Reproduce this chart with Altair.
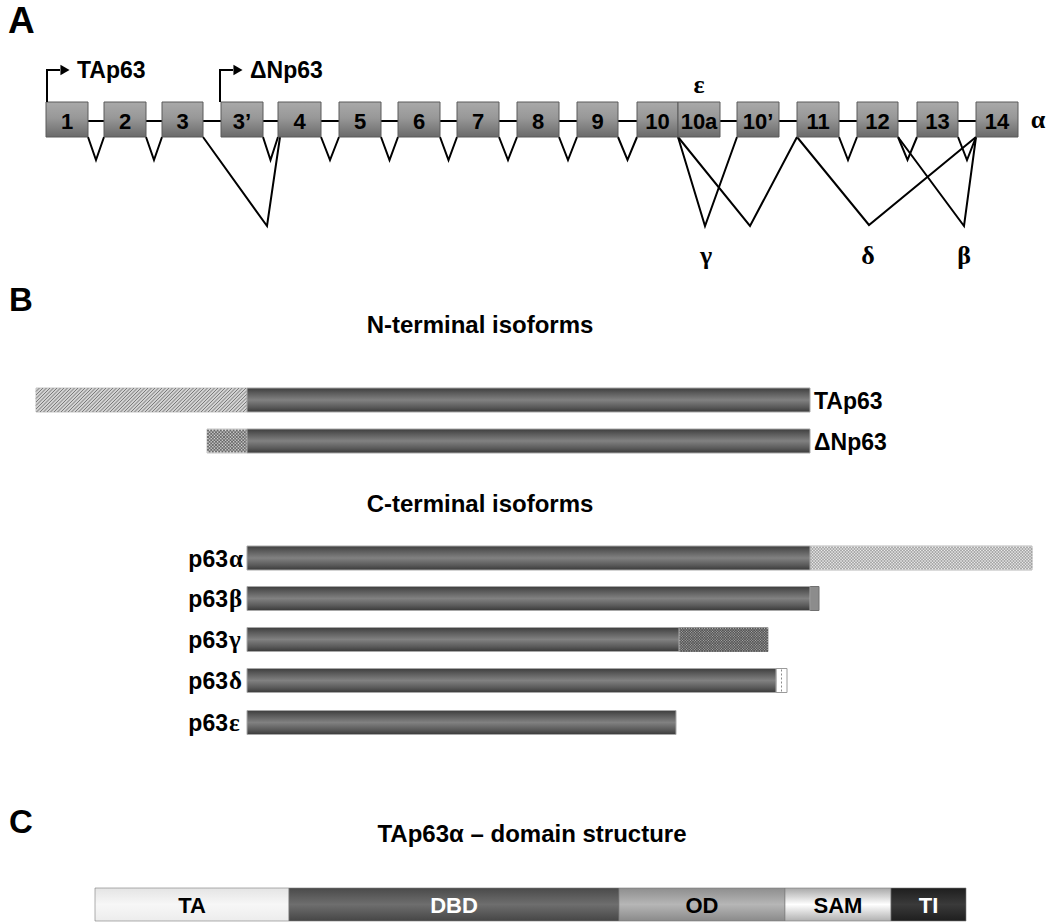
import altair as alt
import pandas as pd

W, H = 1051, 924
SANS = "Liberation Sans"
SERIF = "Liberation Serif"

# ---------------- Panel A: exon map of the p63 gene ----------------
exon_names = ["1", "2", "3", "3’", "4", "5", "6", "7", "8", "9",
              "10", "10a", "10’", "11", "12", "13", "14"]
exon_start = [46, 104, 162, 221, 278, 339, 398, 457, 517, 577,
              637, 678, 737, 797, 857, 917, 976]
exon_end = [88, 146, 203, 263, 321, 381, 440, 499, 559, 618,
            678, 720, 779, 839, 898, 958, 1018]
EXON_TOP, EXON_BOTTOM, INTRON_Y = 102, 137, 121

# splicing between neighbouring exons (donor exon index, acceptor exon index)
short_splices = [(0, 1), (1, 2), (3, 4), (4, 5), (5, 6), (6, 7), (7, 8),
                 (8, 9), (9, 10), (13, 14), (14, 15), (15, 16)]
SHORT_DEPTH = 160

# alternative splice events: donor, apex and acceptor positions, apex depth
alt_donor = [203, 678, 678, 797, 898]
alt_apex = [267, 705, 750, 869, 964]
alt_acceptor = [280, 737, 797, 976, 976]
alt_depth = [226, 226, 226, 225, 226]

# promoters
promoter_names = ["TAp63", "ΔNp63"]
promoter_x = [47, 220]
PROMOTER_Y = 70

# splice-variant symbols
variant_greek = ["γ", "δ", "β", "ε", "α"]
variant_x = [706, 868, 964, 699, 1038]
variant_y = [264, 264, 264, 93, 128]

# ---------------- Panel B: isoforms ----------------
CORE_START, CORE_END, BAR_H = 247, 810, 24
nterm_names = ["TAp63", "ΔNp63"]
nterm_row = [400, 441]
nterm_start = [36, 207]

cterm_greek = ["α", "β", "γ", "δ", "ε"]
cterm_row = [558, 598.5, 639.5, 680.5, 722.5]
cterm_core_end = [810, 810, 679, 776, 676]
cterm_tail_end = [1032, 819, 768, 787, 676]

# ---------------- Panel C: TAp63α domains ----------------
domain_names = ["TA", "DBD", "OD", "SAM", "TI"]
domain_start = [95, 289, 619, 785, 891]
domain_end = [289, 619, 785, 891, 966]
domain_text = ["black", "white", "black", "black", "white"]
DOM_TOP, DOM_BOTTOM = 888, 921

xs = alt.Scale(domain=[0, W], nice=False, zero=False)
ys = alt.Scale(domain=[0, H], nice=False, zero=False, reverse=True)


def X(f):
    return alt.X(f, type="quantitative", scale=xs, axis=None)


def Y(f):
    return alt.Y(f, type="quantitative", scale=ys, axis=None)


def grad(stops):
    return alt.Gradient(
        gradient="linear", x1=0, x2=0, y1=0, y2=1,
        stops=[alt.GradientStop(color=c, offset=o) for o, c in stops])


def rects(rows, fill, stroke=None, sw=1.0):
    df = pd.DataFrame(rows, columns=["x0", "x1", "y0", "y1"])
    kw = dict(fill=fill, strokeWidth=sw)
    if stroke is not None:
        kw["stroke"] = stroke
    return alt.Chart(df).mark_rect(**kw).encode(
        x=X("x0"), x2=alt.X2("x1"), y=Y("y0"), y2=alt.Y2("y1"))


def texts(rows, size, align="center", font=SANS, weight="bold", color="black"):
    df = pd.DataFrame(rows, columns=["x", "y", "t"])
    return alt.Chart(df).mark_text(
        font=font, fontSize=size, fontWeight=weight, align=align,
        baseline="alphabetic", color=color).encode(
        x=X("x"), y=Y("y"), text="t:N")


def polylines(paths, width=2.0, color="black"):
    rows = []
    for i, p in enumerate(paths):
        for k, (px, py) in enumerate(p):
            rows.append({"id": i, "k": k, "x": px, "y": py})
    return alt.Chart(pd.DataFrame(rows)).mark_line(
        color=color, strokeWidth=width, strokeJoin="miter").encode(
        x=X("x"), y=Y("y"), detail="id:N", order="k:Q")


def stipple(x0, x1, y0, y1, step, color, size):
    pts = []
    j = 0
    yy = y0 + step / 2
    while yy < y1:
        xx = x0 + (step / 2 if j % 2 else 0) + 1
        while xx < x1:
            pts.append({"x": xx, "y": yy})
            xx += step
        yy += step / 2
        j += 1
    return alt.Chart(pd.DataFrame(pts)).mark_square(
        size=size, color=color, opacity=1, strokeWidth=0).encode(x=X("x"), y=Y("y"))


def hatch(x0, x1, y0, y1, step, color):
    h = y1 - y0
    rows = []
    s = x0 - h
    while s < x1:
        ax, ay = s, y1
        bx, by = s + h, y0
        if ax < x0:
            ay = y1 - (x0 - ax)
            ax = x0
        if bx > x1:
            by = y0 + (bx - x1)
            bx = x1
        if bx > ax:
            rows.append({"a": ax, "b": bx, "c": ay, "d": by})
        s += step
    return alt.Chart(pd.DataFrame(rows)).mark_rule(color=color, strokeWidth=1).encode(
        x=X("a"), x2=alt.X2("b"), y=Y("c"), y2=alt.Y2("d"))


layers = []

# ---- Panel A ----
layers.append(polylines([[(exon_start[0], INTRON_Y), (exon_end[-1], INTRON_Y)]]))
short_paths = []
for a, b in short_splices:
    l, r = exon_end[a], exon_start[b]
    short_paths.append([(l, EXON_BOTTOM), ((l + r) / 2, SHORT_DEPTH), (r, EXON_BOTTOM)])
alt_paths = [[(d, EXON_BOTTOM), (ap, dep), (ac, EXON_BOTTOM)]
             for d, ap, ac, dep in zip(alt_donor, alt_apex, alt_acceptor, alt_depth)]
layers.append(polylines(short_paths + alt_paths))

exon_fill = grad([(0, "#a9a9a9"), (0.45, "#989898"), (1, "#6a6a6a")])
layers.append(rects([(s, e, EXON_TOP, EXON_BOTTOM) for s, e in zip(exon_start, exon_end)],
                    exon_fill, stroke="#5a5a5a", sw=1))
layers.append(texts([((s + e) / 2, 128.5, n) for s, e, n in zip(exon_start, exon_end, exon_names)], 22))

# promoter arrows
layers.append(polylines([[(px, EXON_TOP), (px, PROMOTER_Y), (px + 13, PROMOTER_Y)]
                         for px in promoter_x]))
arrow_df = pd.DataFrame({"x": [px + 18 for px in promoter_x], "y": [PROMOTER_Y] * 2})
layers.append(alt.Chart(arrow_df).mark_point(
    shape="triangle-right", filled=True, size=110, color="black", opacity=1).encode(
    x=X("x"), y=Y("y")))
layers.append(texts([(px + 30, 78, n) for px, n in zip(promoter_x, promoter_names)], 23, align="left"))
layers.append(texts(list(zip(variant_x, variant_y, variant_greek)), 26, font=SERIF))

# panel letters
layers.append(texts([(8, 33, "A")], 37, align="left"))
layers.append(texts([(9, 311, "B"), (9, 833, "C")], 33, align="left"))

# ---- Panel B ----
core_fill = grad([(0, "#3e3e3e"), (0.2, "#5a5a5a"), (0.5, "#818181"),
                  (0.8, "#5a5a5a"), (1, "#3a3a3a")])
layers.append(texts([(480, 333, "N-terminal isoforms"), (480, 512, "C-terminal isoforms")], 24))

# TAp63: hatched transactivation extension
tx0, ty0, ty1 = nterm_start[0], nterm_row[0] - BAR_H / 2, nterm_row[0] + BAR_H / 2
layers.append(rects([(tx0, CORE_START, ty0, ty1)], "#d2d2d2", stroke="#c4c4c4"))
layers.append(hatch(tx0, CORE_START, ty0, ty1, 3.5, "#7a7a7a"))
# ΔNp63: stippled extension
dx0, dy0, dy1 = nterm_start[1], nterm_row[1] - BAR_H / 2, nterm_row[1] + BAR_H / 2
layers.append(rects([(dx0, CORE_START, dy0, dy1)], "#d6d6d6", stroke="#c4c4c4"))
layers.append(stipple(dx0, CORE_START, dy0, dy1, 3.2, "#6a6a6a", 3.5))
layers.append(rects([(CORE_START, CORE_END, r - BAR_H / 2, r + BAR_H / 2) for r in nterm_row],
                    core_fill, stroke="#a8a8a8"))
layers.append(texts([(CORE_END + 4, r + 9, n) for r, n in zip(nterm_row, nterm_names)], 23, align="left"))

# C-terminal tails
ra, rb, rg, rd = cterm_row[0], cterm_row[1], cterm_row[2], cterm_row[3]
layers.append(rects([(cterm_core_end[0], cterm_tail_end[0], ra - BAR_H / 2, ra + BAR_H / 2)],
                    "#ececec", stroke="#b8b8b8"))
layers.append(stipple(cterm_core_end[0], cterm_tail_end[0], ra - BAR_H / 2, ra + BAR_H / 2,
                      3.0, "#9a9a9a", 2.5))
layers.append(rects([(cterm_core_end[1], cterm_tail_end[1], rb - BAR_H / 2, rb + BAR_H / 2)],
                    "#8c8c8c", stroke="#707070"))
layers.append(rects([(cterm_core_end[2], cterm_tail_end[2], rg - BAR_H / 2, rg + BAR_H / 2)],
                    "#c4c4c4", stroke="#9a9a9a"))
layers.append(stipple(cterm_core_end[2], cterm_tail_end[2], rg - BAR_H / 2, rg + BAR_H / 2,
                      2.6, "#555555", 3.0))
layers.append(rects([(cterm_core_end[3], cterm_tail_end[3], rd - BAR_H / 2, rd + BAR_H / 2)],
                    "white", stroke="#9a9a9a"))
dash_df = pd.DataFrame({"x": [(cterm_core_end[3] + cterm_tail_end[3]) / 2],
                        "y0": [rd - BAR_H / 2 + 1], "y1": [rd + BAR_H / 2 - 1]})
layers.append(alt.Chart(dash_df).mark_rule(color="#8a8a8a", strokeDash=[2, 2], strokeWidth=1).encode(
    x=X("x"), y=Y("y0"), y2=alt.Y2("y1")))
layers.append(rects([(CORE_START, e, r - BAR_H / 2, r + BAR_H / 2)
                     for r, e in zip(cterm_row, cterm_core_end)], core_fill, stroke="#a8a8a8"))
layers.append(texts([(228, r + 8.5, "p63") for r in cterm_row], 23, align="right"))
layers.append(texts([(229, r + 8.5, g) for r, g in zip(cterm_row, cterm_greek)], 25,
                    align="left", font=SERIF))

# ---- Panel C ----
layers.append(texts([(532, 842, "TAp63α – domain structure")], 24))
domain_fills = [
    grad([(0, "#e4e4e4"), (0.5, "#f7f7f7"), (1, "#ececec")]),
    grad([(0, "#4a4a4a"), (0.5, "#6e6e6e"), (1, "#464646")]),
    grad([(0, "#8e8e8e"), (0.5, "#b6b6b6"), (1, "#8a8a8a")]),
    grad([(0, "#a8a8a8"), (0.5, "#ffffff"), (1, "#b0b0b0")]),
    grad([(0, "#1e1e1e"), (0.5, "#3a3a3a"), (1, "#1e1e1e")]),
]
for s, e, f in zip(domain_start, domain_end, domain_fills):
    layers.append(rects([(s, e, DOM_TOP, DOM_BOTTOM)], f, stroke="#7a7a7a", sw=0.6))
for col in ["black", "white"]:
    rows = [((s + e) / 2, 913, n) for s, e, n, c in
            zip(domain_start, domain_end, domain_names, domain_text) if c == col]
    layers.append(texts(rows, 22, color=col))

chart = alt.layer(*layers).properties(
    width=W, height=H, padding=0, autosize="none", background="white"
).configure_view(strokeWidth=0)

chart.save("out.html", embed_options={"renderer": "svg", "actions": False})
